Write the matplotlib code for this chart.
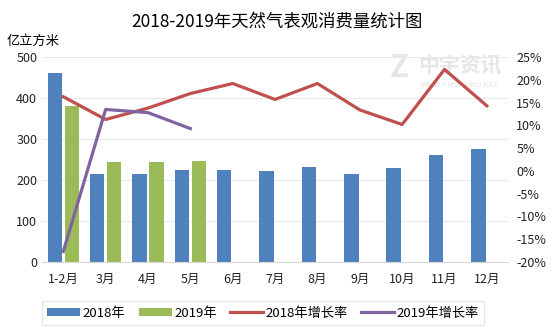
import numpy as np
import matplotlib
matplotlib.use('Agg')
import matplotlib.pyplot as plt
from matplotlib.ticker import FuncFormatter

plt.rcParams['font.family'] = ['Noto Sans CJK SC', 'DejaVu Sans']

# データ
months = ['1-2月', '3月', '4月', '5月', '6月', '7月', '8月', '9月', '10月', '11月', '12月']
vol_2018 = [460, 215, 215, 224, 224, 222, 232, 215, 230, 261, 276]
vol_2019 = [380, 244, 244, 246]
rate_2018 = [16.3, 11.3, 13.8, 17.0, 19.2, 15.7, 19.2, 13.4, 10.2, 22.3, 14.3]
rate_2019 = [-17.7, 13.5, 12.8, 9.3]

c_blue = '#4F81BD'
c_green = '#9BBB59'
c_red = '#C0504D'
c_purple = '#8064A2'

fig = plt.figure(figsize=(5.54, 3.32), dpi=100)
ax = fig.add_axes([0.076, 0.211, 0.841, 0.617])
ax2 = ax.twinx()

x = np.arange(len(months))
w = 0.34
b1 = ax.bar(x - 0.2, vol_2018, w, color=c_blue, label='2018年', zorder=2)
b2 = ax.bar(x[:len(vol_2019)] + 0.2, vol_2019, w, color=c_green, label='2019年', zorder=2)

l1, = ax2.plot(x, rate_2018, color=c_red, lw=2.3, label='2018年增长率')
l2, = ax2.plot(x[:len(rate_2019)], rate_2019, color=c_purple, lw=2.3, label='2019年增长率')

ax.set_xlim(-0.5, len(months) - 0.5)
ax.set_ylim(0, 500)
ax.set_yticks(range(0, 501, 100))
ax2.set_ylim(-20, 25)
ax2.set_yticks(range(-20, 26, 5))
ax2.yaxis.set_major_formatter(FuncFormatter(lambda v, p: f'{int(v)}%'))

ax.set_xticks(x)
ax.set_xticklabels(months)
ax.grid(axis='y', color='#e8e8e8', lw=0.8, zorder=0)
for a in (ax, ax2):
    for s in a.spines.values():
        s.set_visible(False)
    a.tick_params(length=0, labelsize=9, colors='#222222')
ax.spines['bottom'].set_visible(True)
ax.spines['bottom'].set_color('#d9d9d9')
ax.tick_params(axis='x', pad=8)
ax2.tick_params(axis='y', pad=6)

fig.text(0.5, 0.935, '2018-2019年天然气表观消费量统计图', ha='center', va='center', fontsize=12.5)
fig.text(0.012, 0.875, '亿立方米', ha='left', va='center', fontsize=9.5)
# 透かし
ax.text(0.72, 0.795, 'Z', transform=fig.transFigure, ha='center', va='center', fontsize=22,
        color='#e6e6e6', weight='bold', style='italic', zorder=1)
ax.text(0.83, 0.8, '中宇资讯', transform=fig.transFigure, ha='center', va='center', fontsize=15,
        color='#e6e6e6', weight='bold', zorder=1)
ax.text(0.83, 0.745, 'WWW.CHEMSINO.NET', transform=fig.transFigure, ha='center', va='center',
        fontsize=5.5, color='#e2e2e2', zorder=1)

leg = fig.legend([b1, b2, l1, l2], ['2018年', '2019年', '2018年增长率', '2019年增长率'],
                 loc='center', bbox_to_anchor=(0.475, 0.057), ncol=4, fontsize=9.5,
                 frameon=True, fancybox=False, edgecolor='#e0e0e0',
                 handlelength=2.5, handleheight=0.5, columnspacing=1.0, handletextpad=0.2,
                 borderpad=0.4)

fig.savefig('out.png', dpi=100)
